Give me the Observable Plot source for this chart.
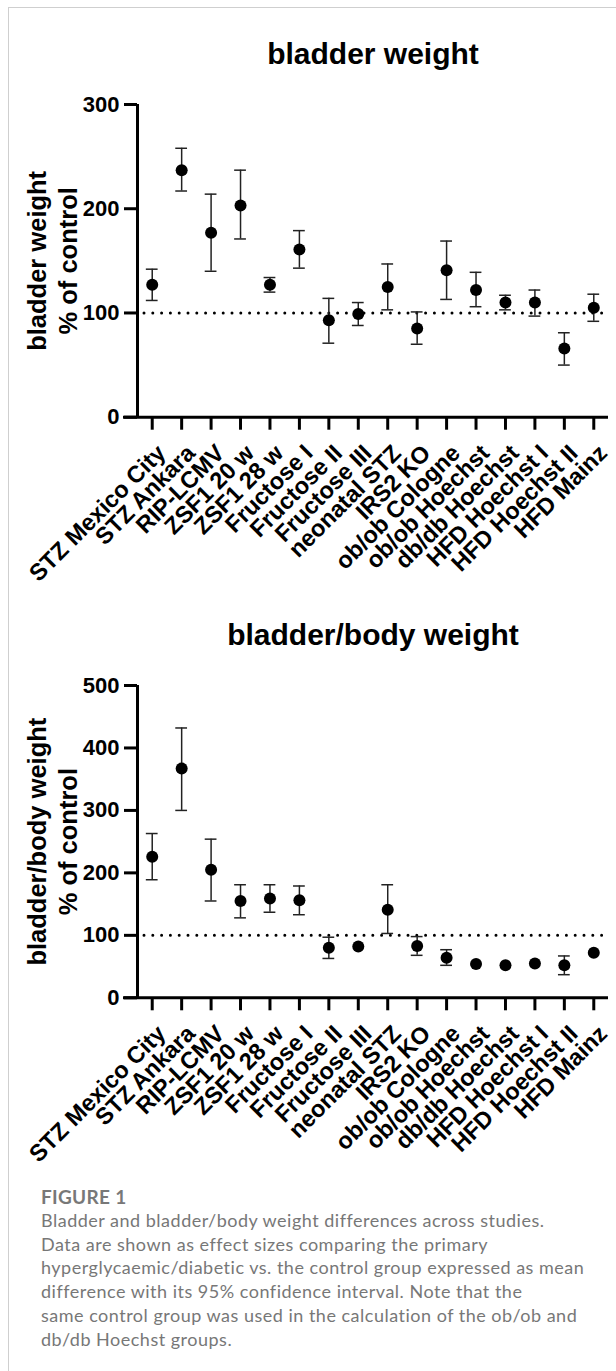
<!DOCTYPE html>
<html>
<head>
<meta charset="utf-8">
<script src="https://cdn.jsdelivr.net/npm/d3@7"></script>
<script src="https://cdn.jsdelivr.net/npm/@observablehq/plot@0.6"></script>
<style>
  html, body { margin: 0; padding: 0; background: #fff; }
  #page { position: relative; width: 616px; height: 1371px; overflow: hidden; background: #fff; }
  #frame { position: absolute; left: 8px; top: 7px; right: -2px; bottom: -2px; border-left: 1px solid #cfcfcf; border-top: 1px solid #cfcfcf; }
  .chart { position: absolute; left: 0; }
  #cap { position: absolute; left: 41px; top: 1185px; width: 575px; font-family: Lato, "Open Sans", sans-serif; color: #777; white-space: nowrap; }
  #cap .fig { font-size: 19px; font-weight: 700; letter-spacing: 0.3px; line-height: 24px; color: #787878; }
  #cap .txt { font-size: 18px; line-height: 23.7px; font-weight: 400; letter-spacing: 0.5px; }
</style>
</head>
<body>
<div id="page">
  <div id="frame"></div>
  <div id="c1" class="chart" style="top:0px"></div>
  <div id="c2" class="chart" style="top:600px"></div>
  <div id="cap">
    <div class="fig">FIGURE 1</div>
    <div class="txt">Bladder and bladder/body weight differences across studies.<br>Data are shown as effect sizes comparing the primary<br>hyperglycaemic/diabetic vs. the control group expressed as mean<br>difference with its 95% confidence interval. Note that the<br>same control group was used in the calculation of the ob/ob and<br>db/db Hoechst groups.</div>
  </div>
</div>
<script>
const categories = ["STZ Mexico City","STZ Ankara","RIP-LCMV","ZSF1 20 w","ZSF1 28 w","Fructose I","Fructose II","Fructose III","neonatal STZ","IRS2 KO","ob/ob Cologne","ob/ob Hoechst","db/db Hoechst","HFD Hoechst I","HFD Hoechst II","HFD Mainz"];

// bladder weight, % of control
const bladderMean = [127,237,177,203,127,161,93,99,125,85,141,122,110,110,66,105];
const bladderLow  = [112,217,140,171,120,143,71,88,103,70,113,106,103,97,50,92];
const bladderHigh = [142,258,214,237,134,179,114,110,147,101,169,139,117,122,81,118];
const bladderTicks = [0,100,200,300];

// bladder/body weight, % of control (null = interval hidden behind the dot)
const ratioMean = [226,367,205,155,159,156,80,82,141,83,64,54,52,55,52,72];
const ratioLow  = [189,300,155,128,137,133,63,null,103,68,52,null,null,null,37,null];
const ratioHigh = [263,432,254,181,181,179,97,null,181,98,77,null,null,null,67,null];
const ratioTicks = [0,100,200,300,400,500];

const referenceLine = 100;

function chart(o) {
  const n = categories.length;
  const xDomain = [-0.5, n - 0.5];
  const data = categories.map((c, i) => ({i, name: c, m: o.mean[i], lo: o.low[i], hi: o.high[i]}));
  const ci = data.filter(d => d.lo != null && d.hi != null);
  const yMax = o.ticks[o.ticks.length - 1];
  const capHalf = 0.2;
  const bar = {stroke: "#222", strokeWidth: 1.5};
  return Plot.plot({
    width: 616,
    height: o.height,
    marginLeft: 137,
    marginRight: 8,
    marginTop: o.marginTop,
    marginBottom: o.marginBottom,
    x: {domain: xDomain, axis: null},
    y: {domain: [0, yMax], axis: null},
    style: {fontFamily: "'Liberation Sans', Arial, sans-serif", background: "transparent", overflow: "visible", color: "black"},
    marks: [
      Plot.ruleY([referenceLine], {insetLeft: 7, stroke: "black", strokeWidth: 3, strokeLinecap: "round", strokeDasharray: "0 8.8"}),
      Plot.ruleX(ci, {x: "i", y1: "lo", y2: "hi", ...bar}),
      Plot.ruleY(ci, {y: "lo", x1: d => d.i - capHalf, x2: d => d.i + capHalf, ...bar}),
      Plot.ruleY(ci, {y: "hi", x1: d => d.i - capHalf, x2: d => d.i + capHalf, ...bar}),
      Plot.dot(data, {x: "i", y: "m", r: 6, fill: "black", stroke: "none"}),
      Plot.axisY({ticks: o.ticks, tickSize: 13, tickPadding: 5, fontSize: 22, fontWeight: "bold", strokeWidth: 3, label: null, tickFormat: d => String(d)}),
      Plot.axisX({ticks: d3.range(n), tickSize: 13, tickFormat: () => "", strokeWidth: 3, label: null}),
      Plot.text(data, {x: "i", y: 0, text: "name", rotate: -45, textAnchor: "end", lineAnchor: "top", dx: 3, dy: 25.5, fontSize: 23.5, fontWeight: "bold", fill: "black"}),
      Plot.ruleX([xDomain[0]], {stroke: "black", strokeWidth: 3}),
      Plot.ruleY([0], {insetLeft: -14, stroke: "black", strokeWidth: 3}),
      Plot.text([o.title], {frameAnchor: "top", dy: -41, lineAnchor: "bottom", fontSize: 30, fontWeight: "bold", fill: "black"}),
      Plot.text([o.ytitle], {frameAnchor: "left", rotate: -90, textAnchor: "middle", dx: -86, fontSize: 25.5, fontWeight: "bold", lineHeight: 1.24, fill: "black"})
    ]
  });
}

document.getElementById("c1").appendChild(chart({
  title: "bladder weight",
  ytitle: "bladder weight\n% of control",
  mean: bladderMean, low: bladderLow, high: bladderHigh, ticks: bladderTicks,
  height: 600, marginTop: 104, marginBottom: 183.3
}));
document.getElementById("c2").appendChild(chart({
  title: "bladder/body weight",
  ytitle: "bladder/body weight\n% of control",
  mean: ratioMean, low: ratioLow, high: ratioHigh, ticks: ratioTicks,
  height: 575, marginTop: 85, marginBottom: 177.7
}));
</script>
</body>
</html>
